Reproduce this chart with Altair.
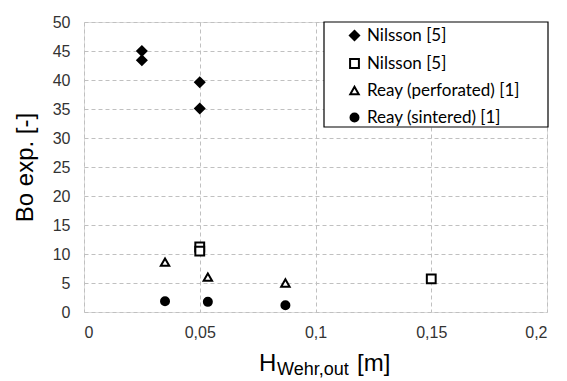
import altair as alt
import pandas as pd

# ---- data ----
series_keys = ["nil_d", "nil_s", "reay_p", "reay_s"]
series_labels = ["Nilsson [5]", "Nilsson [5]", "Reay (perforated) [1]", "Reay (sintered) [1]"]
series_shapes = ["diamond", "square", "triangle-up", "circle"]
series_fills = ["black", "white", "white", "black"]
series_sizes = [85, 64, 130, 95]

nil_d_x = [0.025, 0.025, 0.05, 0.05]
nil_d_y = [45.0, 43.4, 39.6, 35.1]
nil_s_x = [0.05, 0.05, 0.15]
nil_s_y = [11.2, 10.5, 5.7]
reay_p_x = [0.035, 0.0535, 0.087]
reay_p_y = [8.6, 6.0, 5.0]
reay_s_x = [0.035, 0.0535, 0.087]
reay_s_y = [1.85, 1.75, 1.15]

x_ticks = [0, 0.05, 0.1, 0.15, 0.2]
y_ticks = [0, 5, 10, 15, 20, 25, 30, 35, 40, 45, 50]

rows = []
for key, xs, ys in [("nil_d", nil_d_x, nil_d_y), ("nil_s", nil_s_x, nil_s_y),
                    ("reay_p", reay_p_x, reay_p_y), ("reay_s", reay_s_x, reay_s_y)]:
    for xv, yv in zip(xs, ys):
        rows.append({"series": key, "x": xv, "y": yv})
df = pd.DataFrame(rows)

W, H = 463, 290
FONT = "Arial, Liberation Sans"

label_map = "{" + ",".join(f"'{k}':'{v}'" for k, v in zip(series_keys, series_labels)) + "}"

legend = alt.Legend(
    title=None, orient="none", legendX=262, legendY=5,
    labelExpr=label_map + "[datum.value]",
    labelFont="Lato", labelFontSize=17, labelColor="black",
    symbolStrokeWidth=2,
    rowPadding=9, labelOffset=4, padding=0,
)

points = alt.Chart(df).mark_point(strokeWidth=2, opacity=1, filled=False).encode(
    x=alt.X("x:Q", scale=alt.Scale(domain=[0, 0.2], nice=False),
            axis=alt.Axis(values=x_ticks, labelExpr="replace(datum.value + '', '.', ',')",
                          title=None, grid=True, ticks=False, domain=False,
                          labelFont=FONT, labelFontSize=16, labelColor="#333",
                          labelPadding=12, gridColor="#c0c0c0", gridDash=[4, 3])),
    y=alt.Y("y:Q", scale=alt.Scale(domain=[0, 50], nice=False),
            axis=alt.Axis(values=y_ticks, title="Bo exp. [-]", grid=True, ticks=False, domain=False,
                          labelFont=FONT, labelFontSize=16, labelColor="#333", labelPadding=14,
                          titleFont=FONT, titleFontSize=24, titleFontWeight="normal",
                          titleColor="black", titlePadding=15,
                          gridColor="#c0c0c0", gridDash=[4, 3])),
    shape=alt.Shape("series:N", scale=alt.Scale(domain=series_keys, range=series_shapes), legend=legend),
    fill=alt.Fill("series:N", scale=alt.Scale(domain=series_keys, range=series_fills), legend=legend),
    stroke=alt.Stroke("series:N", scale=alt.Scale(domain=series_keys, range=["black"] * 4), legend=legend),
    size=alt.Size("series:N", scale=alt.Scale(domain=series_keys, range=series_sizes), legend=legend),
)

legend_box = alt.Chart(pd.DataFrame({"a": [0]})).mark_rect(
    fill="white", stroke="black", strokeWidth=1.2
).encode(x=alt.value(240), x2=alt.value(464), y=alt.value(0), y2=alt.value(105))

def txt(s, x, y, size):
    return alt.Chart(pd.DataFrame({"t": [s]})).mark_text(
        align="left", baseline="alphabetic", font=FONT, fontSize=size, color="black"
    ).encode(text="t:N", x=alt.value(x), y=alt.value(y))

title_h = txt("H", 175, 349, 24)
title_sub = txt("Wehr,out", 193, 353, 18)
title_m = txt("[m]", 273, 349, 24)

chart = alt.layer(legend_box, points, title_h, title_sub, title_m).properties(
    width=W, height=H,
    autosize=alt.AutoSizeParams(type="none"),
    padding={"left": 84, "top": 22, "right": 20, "bottom": 69},
).configure_view(stroke="#222", strokeWidth=1.5).configure(background="white")

chart.save("out.html", embed_options={"renderer": "svg", "actions": False})
